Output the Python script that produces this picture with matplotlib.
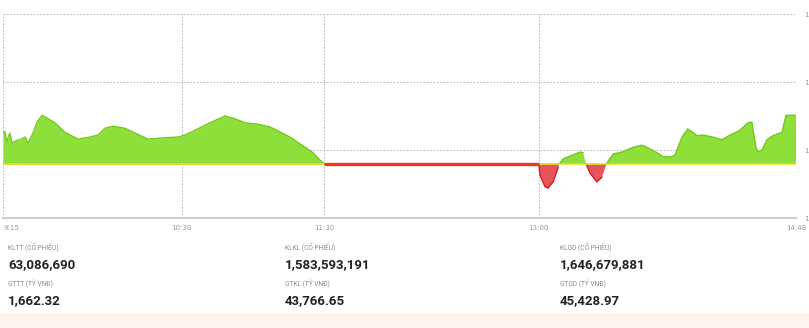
import matplotlib
matplotlib.use("Agg")
import matplotlib.pyplot as plt
from matplotlib.patches import Rectangle
import numpy as np

# minutes since 9:15, index value
ref_value = 1257.94
am_minutes = [0, 0.8, 1.5, 2.9, 3.8, 5.5, 7.1, 9.2, 10.5, 12.6, 14.3, 16.4, 18.5, 21.8, 26.0,
              31.5, 36.5, 39.9, 42.8, 46.2, 51.2, 55.4, 60.9, 68.0, 73.5, 76.4, 80.6, 86.9,
              93.2, 97.4, 101.6, 107.0, 112.1, 115.5, 120.5, 126.0, 130.2, 133.1, 135.0]
am_values = [1262.6, 1262.7, 1261.2, 1262.5, 1261.0, 1261.4, 1261.5, 1261.9, 1261.0, 1262.5,
             1264.1, 1265.1, 1264.7, 1264.0, 1262.6, 1261.6, 1261.9, 1262.2, 1263.2, 1263.5,
             1263.2, 1262.5, 1261.6, 1261.8, 1261.9, 1262.2, 1262.9, 1264.0, 1265.0, 1264.6,
             1264.0, 1263.8, 1263.4, 1262.8, 1261.9, 1260.6, 1259.6, 1258.5, 1257.94]
pm_minutes = [225.0, 225.5, 227.6, 228.9, 231.0, 233.1, 233.9, 235.2, 238.1, 242.3, 243.6,
              244.9, 246.5, 249.4, 251.5, 253.6, 256.2, 259.9, 264.6, 268.3, 270.4, 274.6,
              277.2, 280.9, 282.2, 285.1, 287.6, 289.7, 291.4, 293.9, 298.1, 301.9, 305.3,
              309.5, 312.8, 314.5, 315.0, 316.2, 317.0, 318.7, 320.8, 323.3, 327.1, 328.8,
              333.0]
pm_values = [1257.94, 1256.3, 1254.6, 1254.4, 1255.3, 1257.4, 1258.1, 1258.7, 1259.1, 1259.7,
             1259.6, 1257.9, 1256.6, 1255.3, 1256.0, 1258.1, 1259.4, 1259.7, 1260.4, 1260.7,
             1260.4, 1259.6, 1259.0, 1259.0, 1259.3, 1261.9, 1263.1, 1262.6, 1262.1, 1262.2,
             1261.9, 1261.5, 1262.2, 1262.9, 1264.0, 1264.1, 1262.9, 1260.4, 1259.7, 1260.0,
             1261.5, 1262.1, 1262.6, 1265.1, 1265.1]
lunch_minutes = [135, 225]

x_ticks = [0, 75, 135, 225, 333]
x_labels = ["9:15", "10:30", "11:30", "13:00", "14:48"]
y_ticks = [1250, 1260, 1270, 1280]

stat_labels = [["KLTT (CỔ PHIẾU)", "KLKL (CỔ PHIẾU)", "KLGD (CỔ PHIẾU)"],
               ["GTTT (TỶ VNĐ)", "GTKL (TỶ VNĐ)", "GTGD (TỶ VNĐ)"]]
stat_values = [["63,086,690", "1,583,593,191", "1,646,679,881"],
               ["1,662.32", "43,766.65", "45,428.97"]]

W, H = 809, 328
fig = plt.figure(figsize=(W / 100, H / 100), dpi=100)
fig.patch.set_facecolor("white")
fig.patches.append(Rectangle((0, 0), 1, 15 / H, transform=fig.transFigure,
                             facecolor="#fdf6ee", edgecolor="none", zorder=0))

ax = fig.add_axes([3 / W, (H - 218) / H, 793 / W, 204 / H])
ax.set_xlim(0, 333)
ax.set_ylim(1250, 1280)

green_fill, green_edge = "#8fdf3a", "#72c91c"
red_fill, red_edge = "#e8545c", "#d21f24"

for mins, vals in [(am_minutes, am_values), (pm_minutes, pm_values)]:
    m = np.array(mins)
    v = np.array(vals)
    ax.fill_between(m, ref_value, v, where=v >= ref_value, interpolate=True,
                    color=green_fill, lw=0, zorder=2)
    ax.fill_between(m, ref_value, v, where=v <= ref_value, interpolate=True,
                    color=red_fill, lw=0, zorder=2)
    ax.plot(m, np.where(v >= ref_value, v, np.nan), color=green_edge, lw=1.0, zorder=3)
    ax.plot(m, np.where(v <= ref_value, v, np.nan), color=red_edge, lw=1.0, zorder=3)
    ax.plot([m[0], m[-1]], [ref_value, ref_value], color="#dede2a", lw=1.2, zorder=3)

ax.plot(lunch_minutes, [ref_value, ref_value], color="#e2401e", lw=2.4, zorder=4,
        solid_capstyle="butt")

ax.set_xticks(x_ticks)
ax.set_xticklabels(x_labels)
ax.set_yticks(y_ticks)
ax.set_yticklabels([f"{t:,}" for t in y_ticks])
ax.yaxis.tick_right()
ax.tick_params(axis="x", length=0, pad=5, labelsize=5, labelcolor="#999999")
ax.tick_params(axis="y", length=0, pad=6, labelsize=5, labelcolor="#999999")
for lbl, ha in zip(ax.get_xticklabels(), ["left", "center", "center", "center", "center"]):
    lbl.set_ha(ha)

ax.grid(True, color="#bdbdbd", linestyle=(0, (1.5, 1.5)), lw=0.8, zorder=1)
for s in ["top", "left", "right"]:
    ax.spines[s].set_visible(False)
ax.spines["bottom"].set_color("#cfcfcf")
ax.spines["bottom"].set_linewidth(1.5)
ax.set_facecolor("white")

col_x = [8, 285, 560]
row_y = [(248, 265), (284, 301)]
for r in range(2):
    for c in range(3):
        fig.text(col_x[c] / W, 1 - row_y[r][0] / H, stat_labels[r][c], fontsize=4.8,
                 color="#8a8a8a", va="center", ha="left", family="Roboto")
        fig.text(col_x[c] / W, 1 - row_y[r][1] / H, stat_values[r][c], fontsize=9.5,
                 color="#222222", va="center", ha="left", family="Roboto",
                 fontweight="bold")

fig.savefig("out.png", dpi=100)
